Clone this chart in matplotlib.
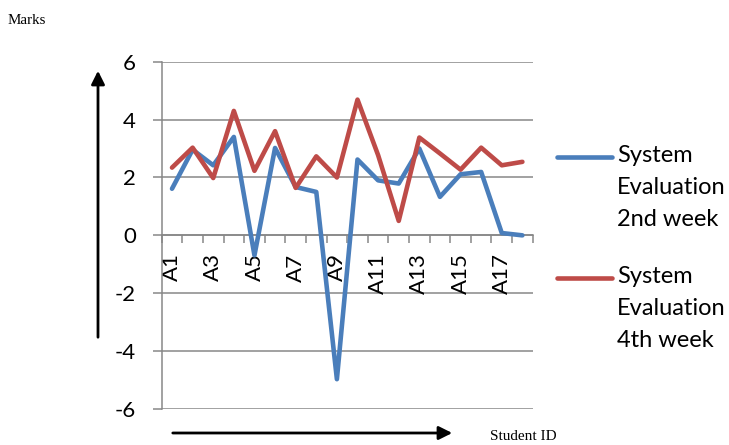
import numpy as np
import matplotlib.pyplot as plt

students = ["A%d" % i for i in range(1, 19)]
week2 = [1.61, 2.96, 2.42, 3.40, -0.69, 3.02, 1.67, 1.50, -4.97, 2.62,
         1.90, 1.79, 3.00, 1.33, 2.11, 2.19, 0.08, 0.00]
week4 = [2.34, 3.03, 1.98, 4.30, 2.23, 3.60, 1.64, 2.73, 2.00, 4.69,
         2.77, 0.50, 3.38, 2.83, 2.27, 3.03, 2.42, 2.54]
series_names = ["System\nEvaluation\n2nd week", "System\nEvaluation\n4th week"]
yticks = [-6, -4, -2, 0, 2, 4, 6]

blue = "#4A7EBB"
red = "#BE4B48"
grey = "#878787"

W, H = 729, 445
fig = plt.figure(figsize=(W / 100, H / 100), dpi=100)
ax = fig.add_axes([161.7 / W, 1 - 409 / H, (532.7 - 161.7) / W, (409 - 61.7) / H])

x = np.arange(len(students))
ax.plot(x, week2, color=blue, lw=3.3, solid_joinstyle="round", solid_capstyle="round", zorder=3)
ax.plot(x, week4, color=red, lw=3.3, solid_joinstyle="round", solid_capstyle="round", zorder=3)

ax.set_xlim(-0.5, len(students) - 0.5)
ax.set_ylim(-6, 6)
ax.set_yticks(yticks)
ax.set_yticklabels([str(v) for v in yticks], fontsize=16, fontfamily="Lato")
ax.tick_params(axis="y", length=6.5, width=1.1, color=grey, pad=12)
for v in yticks:
    ax.axhline(v, color=grey, lw=1.1, zorder=1)

# category axis sits on y=0, tick marks between categories
for s in ["top", "right"]:
    ax.spines[s].set_visible(False)
ax.spines["bottom"].set_position(("data", 0))
ax.spines["bottom"].set_color(grey)
ax.spines["bottom"].set_linewidth(1.1)
ax.spines["left"].set_color(grey)
ax.spines["left"].set_linewidth(1.1)
ax.set_xticks(x[::2])
ax.set_xticklabels(students[::2], rotation=90, fontsize=16, fontfamily="Lato")
ax.set_xticks(np.arange(len(students) + 1) - 0.5, minor=True)
ax.tick_params(axis="x", which="major", length=0, pad=13)
ax.tick_params(axis="x", which="minor", length=5.8, width=1.1, color=grey, direction="out")

# legend drawn beside the plot, handle level with the first line of text
for i, (name, c) in enumerate(zip(series_names, [blue, red])):
    yl = 157 + i * 121
    fig.add_artist(plt.Line2D([557 / W, 612 / W], [1 - yl / H, 1 - yl / H],
                              color=c, lw=3.3, solid_capstyle="round"))
    fig.text(617 / W, 1 - (yl - 12) / H, name, fontsize=17, fontfamily="Lato",
             va="top", ha="left", linespacing=1.65)

# axis arrows and titles
ax.annotate("", xy=(98, H - 68), xytext=(98, H - 340), xycoords="figure pixels",
            textcoords="figure pixels",
            arrowprops=dict(arrowstyle="-|>", color="black", lw=2, mutation_scale=20))
ax.annotate("", xy=(455, H - 433), xytext=(170, H - 433), xycoords="figure pixels",
            textcoords="figure pixels",
            arrowprops=dict(arrowstyle="-|>", color="black", lw=2, mutation_scale=20))
fig.text(8 / W, 1 - 20 / H, "Marks", fontsize=10.8, fontfamily="Liberation Serif",
         va="center", ha="left")
fig.text(490 / W, 1 - 437 / H, "Student ID", fontsize=11, fontfamily="Liberation Serif",
         va="center", ha="left")

fig.savefig("out.png", dpi=100)
